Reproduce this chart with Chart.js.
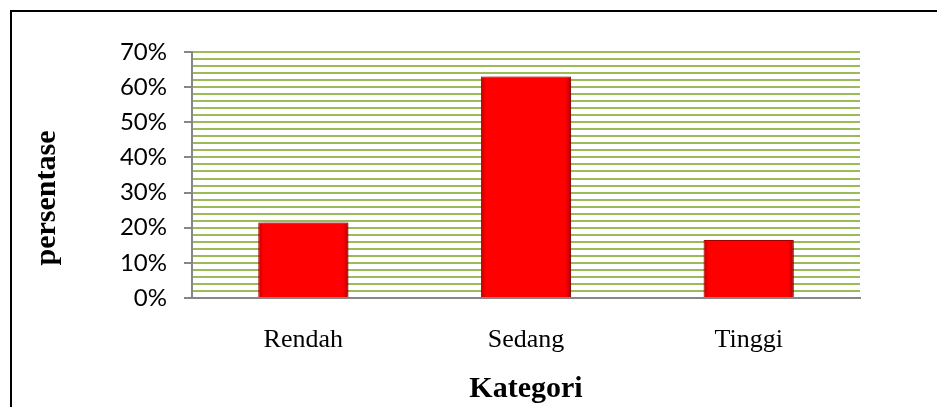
<!DOCTYPE html>
<html><head><meta charset="utf-8">
<script src="https://cdn.jsdelivr.net/npm/chart.js@4"></script>
<style>
html,body{margin:0;padding:0;background:#fff;overflow:hidden}
canvas{display:block}
</style></head><body>
<canvas id="c" width="937" height="407"></canvas>
<script>
const categories = ['Rendah', 'Sedang', 'Tinggi'];
const values = [21.5, 63, 16.5];
const yTickLabels = ['0%', '10%', '20%', '30%', '40%', '50%', '60%', '70%'];
const xTitle = 'Kategori';
const yTitle = 'persentase';

const GREEN = '#9BBB59';
const AXIS = '#868686';
const BAR_PCT = 0.405;

const framePlugin = {
  id: 'frame',
  afterDraw(chart) {
    const ctx = chart.ctx;
    ctx.save();
    ctx.strokeStyle = '#000';
    ctx.lineWidth = 2;
    ctx.beginPath();
    ctx.moveTo(11, chart.height);
    ctx.lineTo(11, 11);
    ctx.lineTo(chart.width, 11);
    ctx.stroke();
    ctx.restore();
  }
};

const shadowPlugin = {
  id: 'barShadow',
  beforeDatasetsDraw(chart) {
    const ctx = chart.ctx;
    ctx.save();
    ctx.shadowColor = 'rgba(0,0,0,0.45)';
    ctx.shadowBlur = 5;
    ctx.shadowOffsetX = 2;
    ctx.shadowOffsetY = 1;
  },
  afterDatasetsDraw(chart) { chart.ctx.restore(); }
};

const yTitlePlugin = {
  id: 'yTitle',
  afterDraw(chart) {
    const ctx = chart.ctx;
    ctx.save();
    ctx.translate(55, 198);
    ctx.rotate(-Math.PI / 2);
    ctx.font = 'bold 30px "Liberation Serif"';
    ctx.fillStyle = '#000';
    ctx.textAlign = 'center';
    ctx.textBaseline = 'alphabetic';
    ctx.fillText(yTitle, 0, 0);
    ctx.restore();
  }
};

function barFill(c) {
  const chart = c.chart;
  const xs = chart.scales && chart.scales.x;
  if (!xs || !chart.chartArea || c.dataIndex === undefined) return '#FF0000';
  const cx = xs.getPixelForValue(c.dataIndex);
  const w = (xs.width / categories.length) * BAR_PCT;
  if (!isFinite(cx) || !isFinite(w)) return '#FF0000';
  const g = chart.ctx.createLinearGradient(cx - w / 2, 0, cx + w / 2, 0);
  g.addColorStop(0, '#C80000');
  g.addColorStop(0.06, '#FF0000');
  g.addColorStop(0.94, '#FF0000');
  g.addColorStop(1, '#B00000');
  return g;
}

new Chart(document.getElementById('c'), {
  type: 'bar',
  data: {
    labels: categories,
    datasets: [{
      data: values,
      backgroundColor: barFill,
      borderColor: '#B80000',
      borderWidth: 1,
      barPercentage: BAR_PCT,
      categoryPercentage: 1
    }]
  },
  options: {
    responsive: false,
    animation: false,
    devicePixelRatio: 1,
    layout: { padding: { top: 52, right: 77, bottom: 0, left: 0 } },
    plugins: { legend: { display: false }, tooltip: { enabled: false } },
    scales: {
      x: {
        grid: { display: false, drawTicks: false },
        border: { display: true, color: AXIS, width: 2 },
        ticks: {
          color: '#000',
          padding: 27,
          font: { family: '"Liberation Serif"', size: 26 }
        },
        title: {
          display: true,
          text: xTitle,
          color: '#000',
          padding: { top: 0, bottom: 0 },
          font: { family: '"Liberation Serif"', size: 30, weight: 'bold' }
        },
        afterFit(scale) { scale.height = 109; }
      },
      y: {
        min: 0,
        max: 70,
        grid: {
          color: (c) => (c.tick && c.tick.value === 0) ? 'rgba(0,0,0,0)' : GREEN,
          lineWidth: 2,
          tickLength: 8,
          tickWidth: 2,
          tickColor: (c) => (c.tick && c.tick.value % 10 === 0) ? AXIS : 'rgba(0,0,0,0)'
        },
        border: { display: true, color: AXIS, width: 2 },
        ticks: {
          stepSize: 2,
          autoSkip: false,
          color: '#000',
          padding: 17,
          font: { family: 'Lato', size: 24 },
          callback: (v) => (v % 10 === 0) ? yTickLabels[v / 10] : ''
        },
        afterFit(scale) { scale.width = 192; }
      }
    }
  },
  plugins: [framePlugin, shadowPlugin, yTitlePlugin]
});
</script>
</body></html>
